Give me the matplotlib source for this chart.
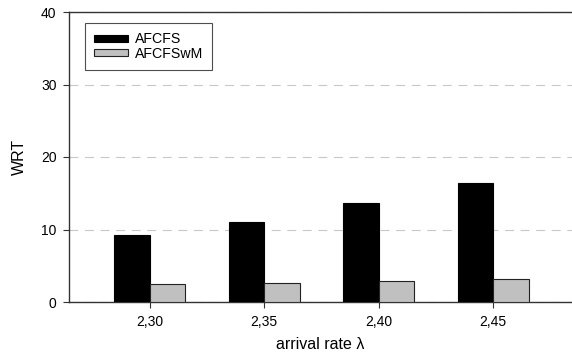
import numpy as np
import matplotlib.pyplot as plt

plt.rcParams['font.family'] = ['Liberation Sans', 'DejaVu Sans']

# data
rates = ['2,30', '2,35', '2,40', '2,45']
afcfs = [9.2, 11.0, 13.7, 16.4]
afcfswm = [2.5, 2.6, 2.9, 3.2]

fig = plt.figure(figsize=(5.72, 3.56), dpi=100)
ax = fig.add_axes([69 / 572, 54 / 356, 1 - 69 / 572, 290 / 356])

x = np.arange(len(rates))
w = 0.31
ax.bar(x - w / 2, afcfs, w, color='black', edgecolor='black', linewidth=0.8,
       label='AFCFS', zorder=3)
ax.bar(x + w / 2, afcfswm, w, color='#c0c0c0', edgecolor='#222222', linewidth=0.8,
       label='AFCFSwM', zorder=3)

ax.set_xlim(-0.705, 3.69)
ax.set_ylim(0, 40)
ax.set_yticks([0, 10, 20, 30, 40])
ax.set_xticks(x)
ax.set_xticklabels(rates)
ax.yaxis.grid(True, linestyle=(0, (8, 6)), color='#c8c8c8', linewidth=0.8, zorder=0)

ax.spines['right'].set_visible(False)
for s in ['left', 'top', 'bottom']:
    ax.spines[s].set_color('#333333')
    ax.spines[s].set_linewidth(1.0)
ax.tick_params(axis='both', labelsize=10, length=4, width=0.8, color='#333333', direction='out')
ax.tick_params(axis='x', pad=5)
ax.tick_params(axis='y', pad=5)

ax.set_xlabel('arrival rate λ', fontsize=11.5, labelpad=6)
ax.set_ylabel('WRT', fontsize=11.5, labelpad=10)

leg = ax.legend(loc='upper left', bbox_to_anchor=(0.031, 0.962), fontsize=10.2,
                handlelength=2.4, handleheight=0.4, frameon=True, fancybox=False,
                borderpad=0.65, labelspacing=0.05, handletextpad=0.5, borderaxespad=0)
leg.get_frame().set_edgecolor('#222222')
leg.get_frame().set_linewidth(0.8)

fig.savefig('out.png', dpi=100)
